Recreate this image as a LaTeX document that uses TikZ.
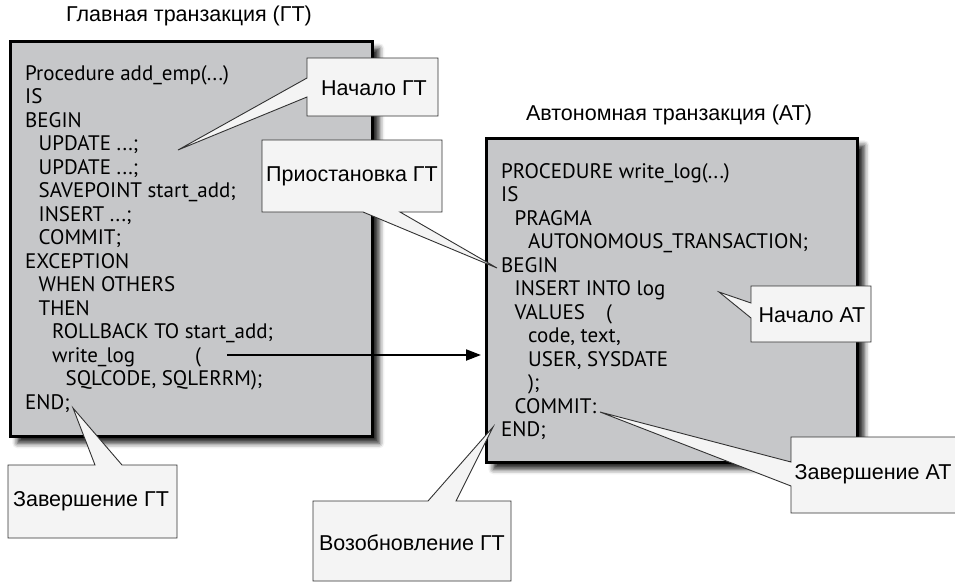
\documentclass[tikz,border=0pt]{standalone}
\usepackage{fontspec}
\setmainfont{Liberation Sans}
\newfontfamily\codefont{PT Sans}
\usetikzlibrary{arrows.meta,shadows.blur}
\definecolor{boxgray}{RGB}{198,199,201}
\definecolor{callfill}{RGB}{244,244,244}
\definecolor{calldraw}{RGB}{50,50,50}
\tikzset{
  bigbox/.style={draw=black,line width=2.6pt,fill=boxgray,inner sep=0pt,anchor=north west,
    blur shadow={shadow xshift=7pt,shadow yshift=-7pt,shadow blur radius=5pt,shadow opacity=85}},
  codeline/.style={font=\codefont\fontsize{21}{25}\selectfont,inner sep=0pt,anchor=base west},
  callout/.style={draw=calldraw,line width=0.9pt,fill=callfill,line join=miter},
  calltext/.style={font=\fontsize{21.5}{25}\selectfont,inner sep=0pt},
  title/.style={font=\fontsize{21.5}{25}\selectfont,inner sep=0pt},
  flow/.style={line width=2pt,-{Triangle[length=15pt,width=11pt]}}
}
\begin{document}
\begin{tikzpicture}[x=1pt,y=-1pt]
\useasboundingbox (0,0) rectangle (955,584);
% titles
\node[title] (t1) at (189,16) {Главная транзакция (ГТ)};
\node[title] (t2) at (669,115) {Автономная транзакция (АТ)};
% big boxes
\node[bigbox,minimum width=362pt,minimum height=395pt] (gt) at (9,40) {};
\node[bigbox,minimum width=371pt,minimum height=324pt] (at) at (485,137) {};
% left code
\foreach \ind/\txt [count=\i] in {
  0/{Procedure add\_emp(...)},
  0/{IS},
  0/{BEGIN},
  1/{UPDATE ...;},
  1/{UPDATE ...;},
  1/{SAVEPOINT start\_add;},
  1/{INSERT ...;},
  1/{COMMIT;},
  0/{EXCEPTION},
  1/{WHEN OTHERS},
  1/{THEN},
  2/{ROLLBACK TO start\_add;},
  2/{write\_log},
  3/{SQLCODE, SQLERRM);},
  0/{END;}}{
  \node[codeline] (l\i) at ({25+13.5*\ind},{80+23.5*(\i-1)}) {\txt};
}
\node[codeline] (lp) at (195,{80+23.5*12}) {(};
% right code
\foreach \ind/\txt [count=\i] in {
  0/{PROCEDURE write\_log(...)},
  0/{IS},
  1/{PRAGMA},
  2/{AUTONOMOUS\_TRANSACTION;},
  0/{BEGIN},
  1/{INSERT INTO log},
  1/{VALUES},
  2/{code, text,},
  2/{USER, SYSDATE},
  2/{);},
  1/{COMMIT:},
  0/{END;}}{
  \node[codeline] (r\i) at ({501+13.5*\ind},{178+23.5*(\i-1)}) {\txt};
}
\node[codeline] (rp) at (606,{178+23.5*6}) {(};
% arrow
\coordinate (as) at (227,355);
\coordinate (ae) at (481,355);
\draw[flow] (as) -- (ae);
% callout tips
\coordinate (tipA) at (178,150);
\coordinate (tipB) at (497,268);
\coordinate (tipC) at (719,292);
\coordinate (tipD) at (73,408);
\coordinate (tipE) at (493,427);
\coordinate (tipF) at (600,412);
% callouts
\draw[callout] (307,58) -- (438,58) -- (438,116) -- (307,116) -- (307,97) -- (tipA) -- (307,78) -- cycle;
\node[calltext] (cA) at (374,88) {Начало ГТ};
\draw[callout] (262,140) -- (442,140) -- (442,212) -- (400,212) -- (tipB) -- (363,212) -- (262,212) -- cycle;
\node[calltext] (cB) at (352,176) {Приостановка ГТ};
\draw[callout] (751,286) -- (871,286) -- (871,342) -- (751,342) -- (751,318) -- (tipC) -- (751,303) -- cycle;
\node[calltext] (cC) at (812,315) {Начало АТ};
\draw[callout] (8,465) -- (95,465) -- (tipD) -- (122,465) -- (177,465) -- (177,538) -- (8,538) -- cycle;
\node[calltext] (cD) at (91,501) {Завершение ГТ};
\draw[callout] (313,501) -- (428,501) -- (tipE) -- (456,501) -- (511,501) -- (511,581) -- (313,581) -- cycle;
\node[calltext] (cE) at (412,543) {Возобновление ГТ};
\draw[callout] (791,437) -- (962,437) -- (962,513) -- (791,513) -- (791,486) -- (tipF) -- (791,462) -- cycle;
\node[calltext] (cF) at (873,474) {Завершение АТ};
\end{tikzpicture}
\end{document}
